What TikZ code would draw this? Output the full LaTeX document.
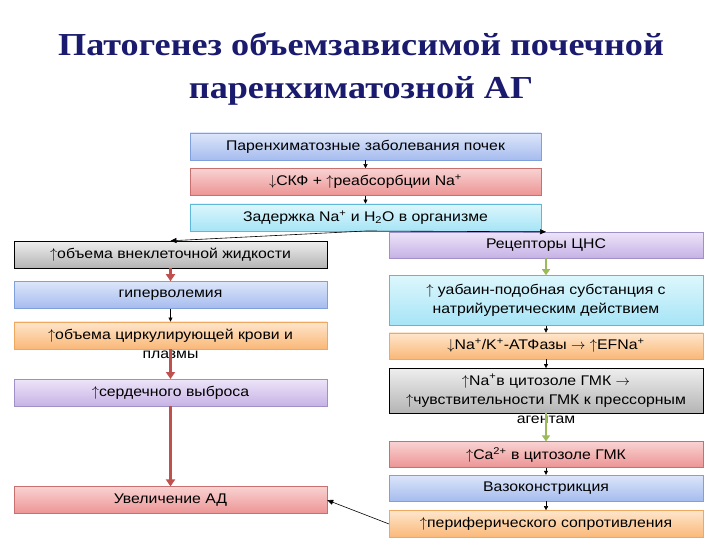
\documentclass[tikz,border=0pt]{standalone}
\usepackage{fontspec}
\setmainfont{Liberation Sans}[FakeStretch=1.13]
\newfontfamily\titlefont{Liberation Serif}[FakeStretch=1.13]
\usetikzlibrary{arrows.meta,positioning}

\definecolor{titleblue}{HTML}{1A1A6E}
\definecolor{arrred}{HTML}{C0504D}
\definecolor{arrgreen}{HTML}{9BBB59}
\definecolor{blueT}{HTML}{DCE6FA}
\definecolor{blueB}{HTML}{A6BCEE}
\definecolor{blueD}{HTML}{7F9FDD}
\definecolor{redT}{HTML}{F9D2D2}
\definecolor{redB}{HTML}{EC9494}
\definecolor{redD}{HTML}{C87070}
\definecolor{cyanT}{HTML}{DDF7FD}
\definecolor{cyanB}{HTML}{A6E4F6}
\definecolor{cyanD}{HTML}{60B8D8}
\definecolor{grayT}{HTML}{EEEEEE}
\definecolor{grayB}{HTML}{B4B4B4}
\definecolor{oranT}{HTML}{FEE6CC}
\definecolor{oranB}{HTML}{FAB878}
\definecolor{oranD}{HTML}{F0A860}
\definecolor{violT}{HTML}{EDE4F8}
\definecolor{violB}{HTML}{C6B2E6}
\definecolor{violD}{HTML}{A090C8}

\newcommand{\up}{$\uparrow$}
\newcommand{\down}{$\downarrow$}
\newcommand{\yields}{$\rightarrow$}

\tikzset{
  box/.style={minimum width=313pt, minimum height=27pt, inner sep=0pt, align=center},
  bluebox/.style={box, top color=blueT, bottom color=blueB, draw=blueD},
  redbox/.style={box, top color=redT, bottom color=redB, draw=redD},
  cyanbox/.style={box, top color=cyanT, bottom color=cyanB, draw=cyanD},
  graybox/.style={box, top color=grayT, bottom color=grayB, draw=black},
  orangebox/.style={box, top color=oranT, bottom color=oranB, draw=oranD},
  violetbox/.style={box, top color=violT, bottom color=violB, draw=violD},
  thin arrow/.style={-{Triangle[length=4pt, width=4pt]}, black, thin},
  long arrow/.style={-{Triangle[length=6pt, width=5pt]}, black, semithick},
  red arrow/.style={-{Triangle[length=7pt, width=9pt]}, arrred, line width=3pt},
  green arrow/.style={-{Triangle[length=6pt, width=8pt]}, arrgreen, line width=2.5pt},
  overflow/.style={inner sep=0pt, label distance=2pt}
}

\begin{document}
\begin{tikzpicture}[x=1pt, y=-1pt, font=\fontsize{14}{19}\selectfont]
  \useasboundingbox[fill=white] (0,0) rectangle (720,540);
  \node[font=\titlefont\bfseries\fontsize{32}{43}\selectfont, text=titleblue,
    align=center, inner sep=0pt, anchor=north]
    (title) at (361,32) {Патогенез объемзависимой почечной\\паренхиматозной АГ};
  % central column
  \node[bluebox, minimum width=351pt] (kidney) at (365.5,146.5)
    {Паренхиматозные заболевания почек};
  \node[redbox, minimum width=351pt, below=8pt of kidney]
    (gfr) {\down СКФ + \up реабсорбции Na\textsuperscript{+}};
  \node[cyanbox, minimum width=351pt, below=8pt of gfr]
    (retain) {Задержка Na\textsuperscript{+} и H\textsubscript{2}O в организме};
  % left column
  \node[graybox] (ecf) at (170.5,254.5) {\up объема внеклеточной жидкости};
  \node[bluebox, below=13pt of ecf] (hyper) {гиперволемия};
  \node[orangebox, below=13pt of hyper, label={[overflow]below:плазмы}]
    (blood) {\up объема циркулирующей крови и};
  \node[violetbox, below=30pt of blood] (output) {\up сердечного выброса};
  \node[redbox, below=80pt of output] (pressure) {Увеличение АД};
  % right column
  \node[violetbox, minimum width=314pt, minimum height=26pt]
    (cns) at (546,245) {Рецепторы ЦНС};
  \node[cyanbox, minimum width=314pt, minimum height=50pt, below=17pt of cns]
    (ouabain) {\up{} уабаин-подобная субстанция с\\натрийуретическим действием};
  \node[orangebox, minimum width=314pt, minimum height=26pt, below=7pt of ouabain]
    (atpase) {\down Na\textsuperscript{+}/K\textsuperscript{+}-АТФазы \yields{} \up EFNa\textsuperscript{+}};
  \node[graybox, minimum width=314pt, minimum height=45pt, below=9pt of atpase,
    label={[overflow]below:агентам}]
    (smc) {\up Na\textsuperscript{+}в цитозоле ГМК \yields\\\up чувствительности ГМК к прессорным};
  \node[redbox, minimum width=314pt, minimum height=26pt, below=28pt of smc]
    (calcium) {\up Ca\textsuperscript{2+} в цитозоле ГМК};
  \node[bluebox, minimum width=314pt, minimum height=26pt, below=7pt of calcium]
    (vaso) {Вазоконстрикция};
  \node[orangebox, minimum width=314pt, minimum height=27pt, below=9pt of vaso]
    (resist) {\up периферического сопротивления};
  % connectors
  \draw[thin arrow] (kidney) -- (gfr);
  \draw[thin arrow] (gfr) -- (retain);
  \draw[long arrow] (retain.south) -- (ecf.north);
  \draw[long arrow] (retain.south) -- (cns.north);
  \draw[red arrow] (ecf) -- (hyper);
  \draw[thin arrow] (hyper) -- (blood);
  \draw[red arrow] (blood) -- (output);
  \draw[red arrow] (output) -- (pressure);
  \draw[green arrow] (cns) -- (ouabain);
  \draw[thin arrow] (ouabain) -- (atpase);
  \draw[thin arrow] (atpase) -- (smc);
  \draw[green arrow] (smc) -- (calcium);
  \draw[thin arrow] (calcium) -- (vaso);
  \draw[thin arrow] (vaso) -- (resist);
  \draw[long arrow] (resist.west) -- (pressure.east);
\end{tikzpicture}
\end{document}
